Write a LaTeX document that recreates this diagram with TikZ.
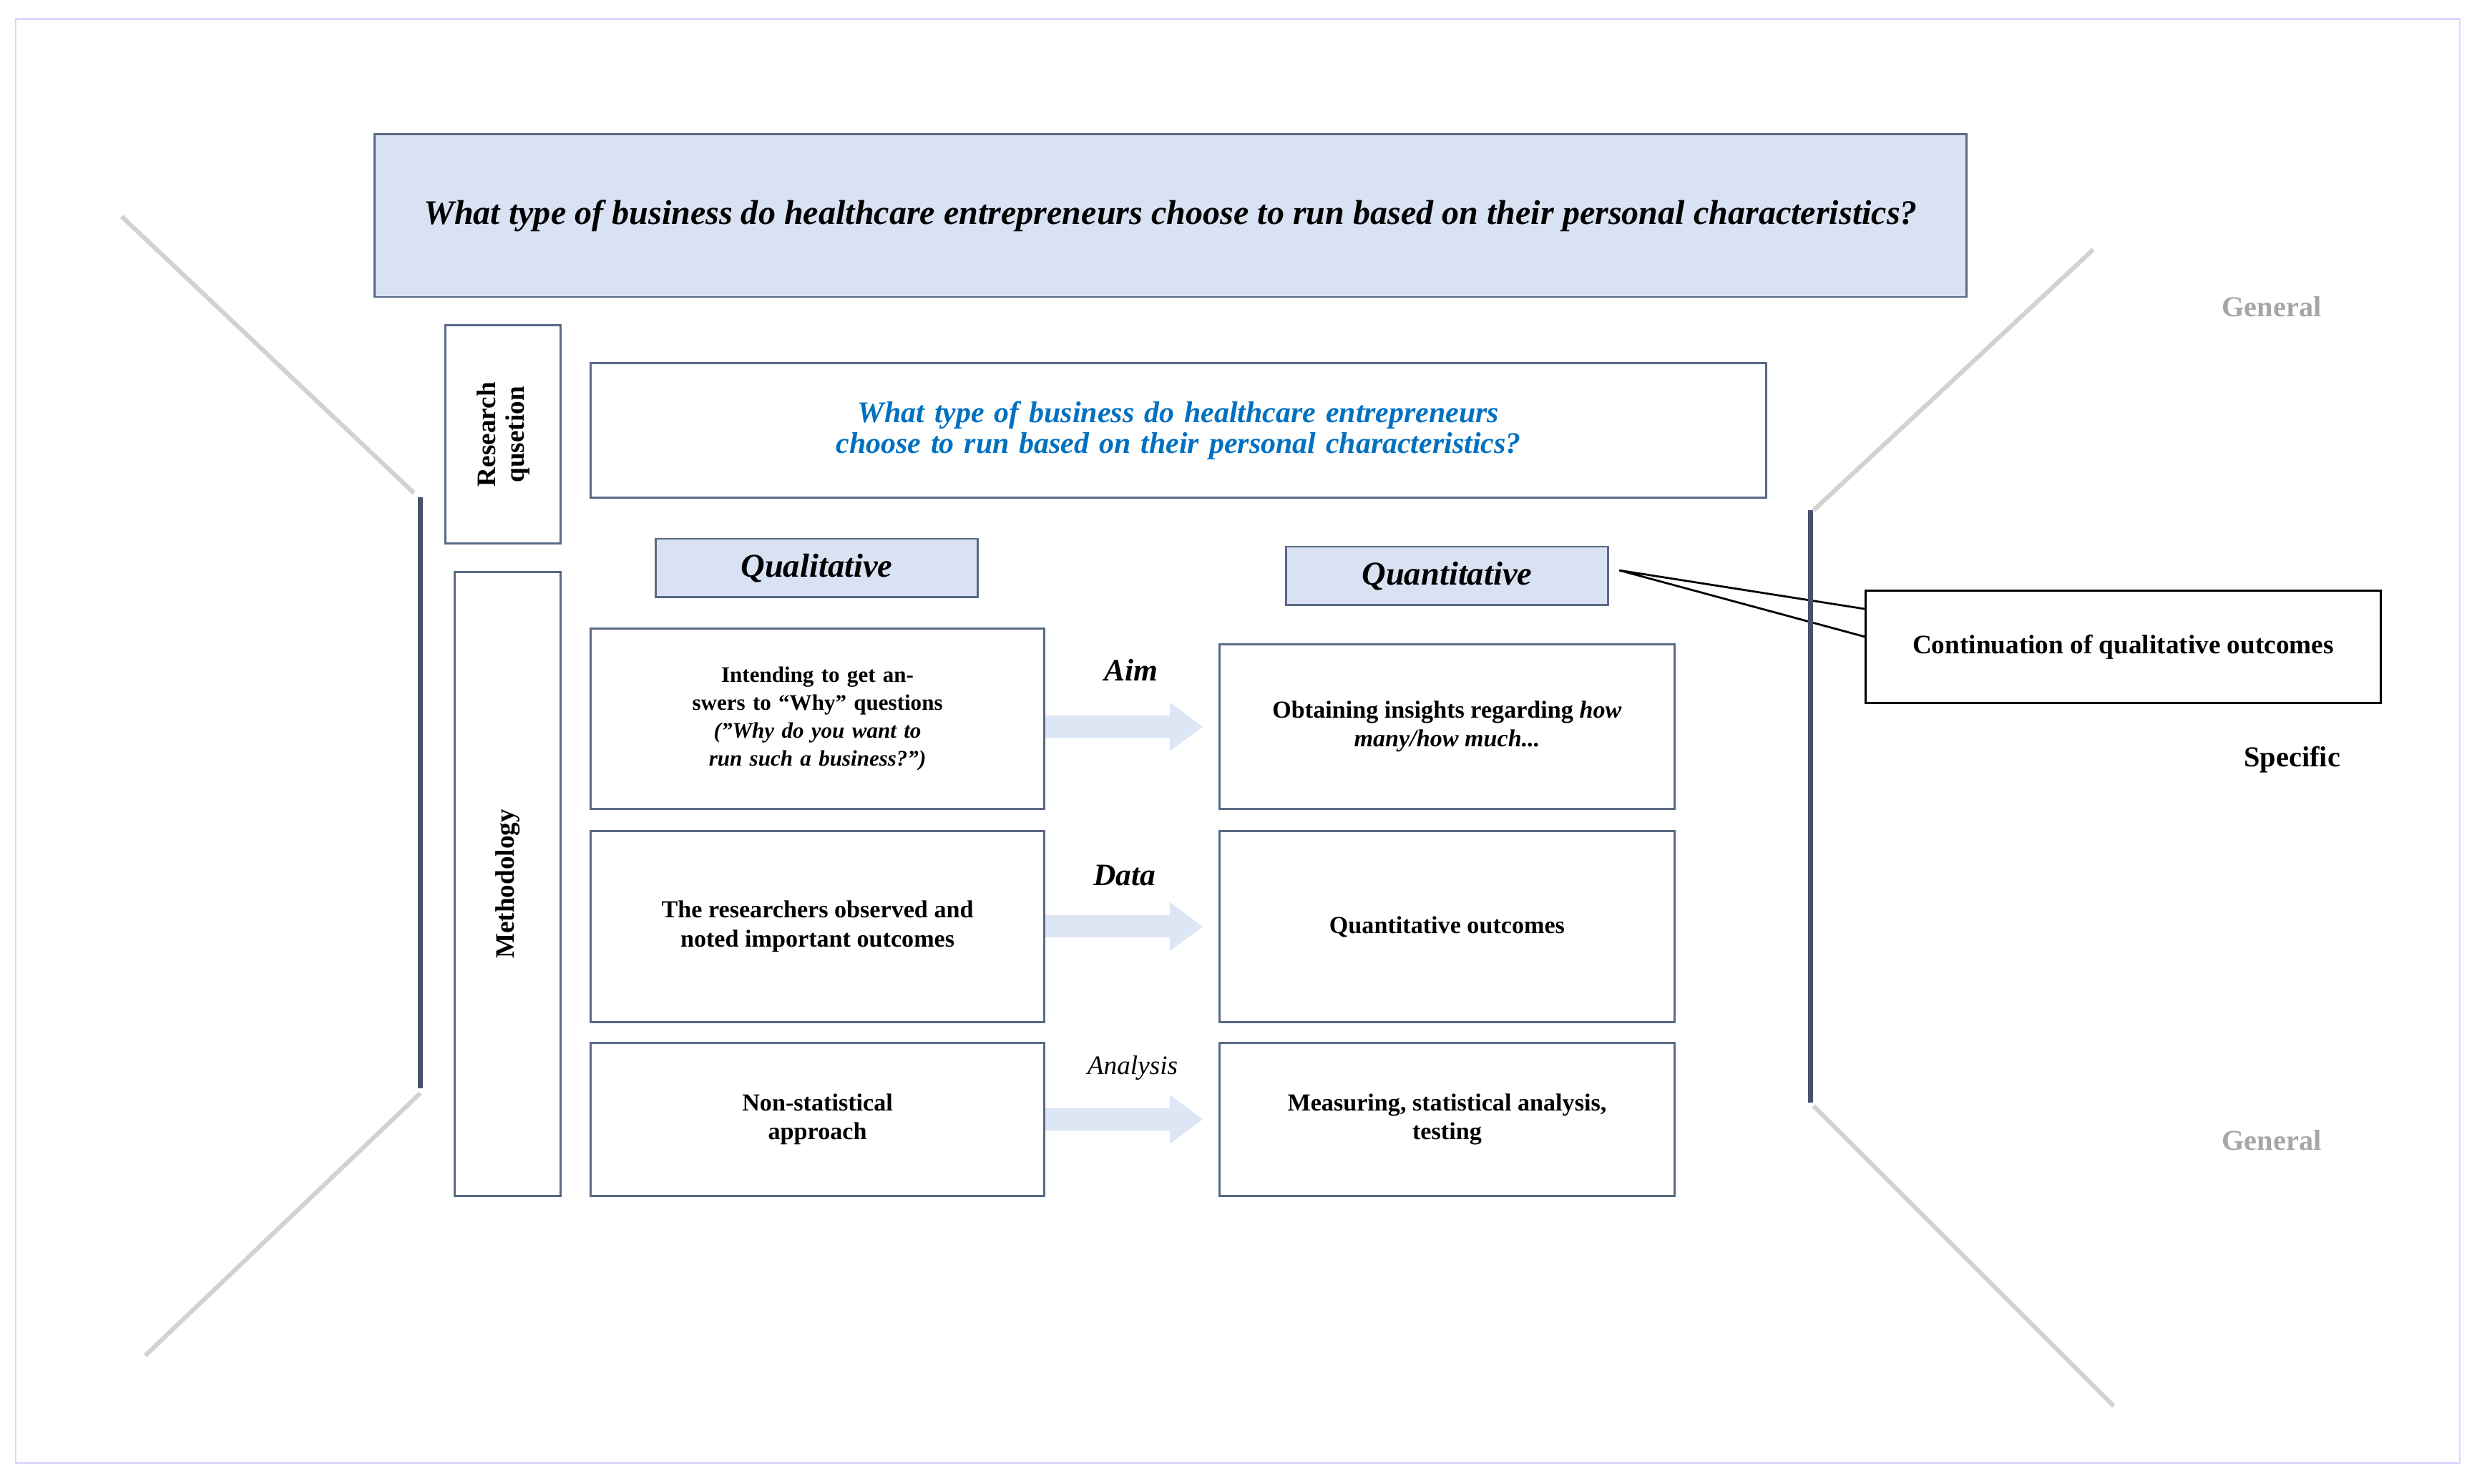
\documentclass[tikz,border=0pt]{standalone}
\usepackage{fontspec}
\setmainfont{Liberation Serif}
\usetikzlibrary{arrows.meta}
\definecolor{boxfill}{HTML}{D9E2F3}
\definecolor{boxline}{HTML}{5A6A85}
\definecolor{rqblue}{HTML}{0070C0}
\definecolor{arrowfill}{HTML}{DCE6F5}
\definecolor{darkbar}{HTML}{44546A}
\tikzset{
    plain/.style={rectangle,draw=boxline,line width=0.9pt,align=center,inner sep=4pt},
    shaded/.style={plain,fill=boxfill},
    bodytext/.style={font=\fontsize{11}{13}\selectfont\bfseries},
    fatarrow/.style={draw=arrowfill,line width=10pt,-{Triangle[length=15pt,width=21pt,fill=arrowfill]},shorten >=7pt},
    steplabel/.style={font=\fontsize{14}{16}\selectfont\bfseries\itshape},
    fadeline/.style={draw=gray!35,line width=2pt},
    bar/.style={draw=darkbar,line width=2.2pt},
    sidetext/.style={font=\fontsize{13}{15}\selectfont\bfseries}}
\begin{document}
\begin{tikzpicture}
\useasboundingbox (0,0) rectangle (39.2,-23.475);
\draw[draw=blue!15,line width=0.8pt] (0.25,-0.3) rectangle (38.925,-23.15);

% top question
\node[shaded,minimum width=25.2cm,minimum height=2.575cm,font=\fontsize{15.5}{18}\selectfont\bfseries\itshape] (top) at (18.525,-3.4125)
  {What type of business do healthcare entrepreneurs choose to run based on their personal characteristics?};

% side labels
\node[plain,minimum width=1.825cm,minimum height=3.45cm] (rqlab) at (7.9625,-6.875) {};
\node[rotate=90,align=center,font=\fontsize{12}{13}\selectfont\bfseries] at (rqlab) {Research\\qusetion};
\node[plain,minimum width=1.675cm,minimum height=9.875cm] (methlab) at (8.0375,-13.9875) {};
\node[rotate=90,font=\fontsize{12}{13}\selectfont\bfseries] at (methlab) {Methodology};

\node[plain,minimum width=18.6cm,minimum height=2.125cm,text=rqblue,text width=17cm,font=\fontsize{13.5}{14}\selectfont\bfseries\itshape] (rq) at (18.65,-6.8125)
  {What type of business do healthcare entrepreneurs choose to run based on their personal characteristics?};

% headers
\node[shaded,minimum width=5.1cm,minimum height=0.925cm,font=\fontsize{15}{17}\selectfont\bfseries\itshape] (qual) at (12.925,-8.9875) {Qualitative};
\node[shaded,minimum width=5.1cm,minimum height=0.925cm,font=\fontsize{15}{17}\selectfont\bfseries\itshape] (quant) at (22.9,-9.1125) {Quantitative};

% left column
\node[plain,bodytext,minimum width=7.175cm,minimum height=2.85cm,text width=6.2cm,font=\fontsize{10}{12.5}\selectfont\bfseries] (aimL) at (12.9375,-11.375)
  {Intending to get answers to “Why” questions\\\textit{(”Why do you want to run such a business?”)}};
\node[plain,bodytext,minimum width=7.175cm,minimum height=3.025cm] (dataL) at (12.9375,-14.6625)
  {The researchers observed and\\noted important outcomes};
\node[plain,bodytext,minimum width=7.175cm,minimum height=2.425cm] (anaL) at (12.9375,-17.7125)
  {Non-statistical\\approach};

% right column
\node[plain,bodytext,minimum width=7.2cm,minimum height=2.6cm] (aimR) at (22.9,-11.5)
  {Obtaining insights regarding \textit{how}\\\textit{many/how much...}};
\node[plain,bodytext,minimum width=7.2cm,minimum height=3.025cm] (dataR) at (22.9,-14.6625) {Quantitative outcomes};
\node[plain,bodytext,minimum width=7.2cm,minimum height=2.425cm] (anaR) at (22.9,-17.7125)
  {Measuring, statistical analysis,\\testing};

% arrows
\draw[fatarrow] (aimL.east |- aimR.west) -- (aimR.west);
\draw[fatarrow] (dataL.east) -- (dataR.west);
\draw[fatarrow] (anaL.east) -- (anaR.west);
\node[steplabel] (aim) at (17.9,-10.6) {Aim};
\node[steplabel] (data) at (17.8,-13.85) {Data};
\node[font=\fontsize{12}{14}\selectfont\itshape] (ana) at (17.925,-16.9) {Analysis};

% callout
\coordinate (tip) at (25.625,-9.025);
\coordinate (baseA) at (29.6,-9.65);
\coordinate (baseB) at (29.6,-10.1);
\draw[fill=white,line width=0.9pt] (baseA) -- (tip) -- (baseB);
\node[draw,fill=white,line width=1pt,minimum width=8.15cm,minimum height=1.775cm,sidetext,font=\fontsize{12}{14}\selectfont\bfseries] (cont) at (33.6,-10.2375)
  {Continuation of qualitative outcomes};

% bracket lines
\coordinate (lu1) at (1.925,-3.425);
\coordinate (lu2) at (6.55,-7.8);
\coordinate (lv1) at (6.65,-7.875);
\coordinate (lv2) at (6.65,-17.225);
\coordinate (ll1) at (6.65,-17.3);
\coordinate (ll2) at (2.3,-21.45);
\coordinate (ru1) at (33.125,-3.95);
\coordinate (ru2) at (28.7,-8.075);
\coordinate (rv1) at (28.65,-8.075);
\coordinate (rv2) at (28.65,-17.45);
\coordinate (rl1) at (28.7,-17.5);
\coordinate (rl2) at (33.45,-22.25);
\draw[fadeline] (lu1) -- (lu2);
\draw[bar] (lv1) -- (lv2);
\draw[fadeline] (ll1) -- (ll2);
\draw[fadeline] (ru1) -- (ru2);
\draw[bar] (rv1) -- (rv2);
\draw[fadeline] (rl1) -- (rl2);

\node[sidetext,text=gray!70] (gen1) at (35.95,-4.85) {General};
\node[sidetext] (spec) at (36.275,-12.025) {Specific};
\node[sidetext,text=gray!70] (gen2) at (35.95,-18.05) {General};
\end{tikzpicture}
\end{document}
